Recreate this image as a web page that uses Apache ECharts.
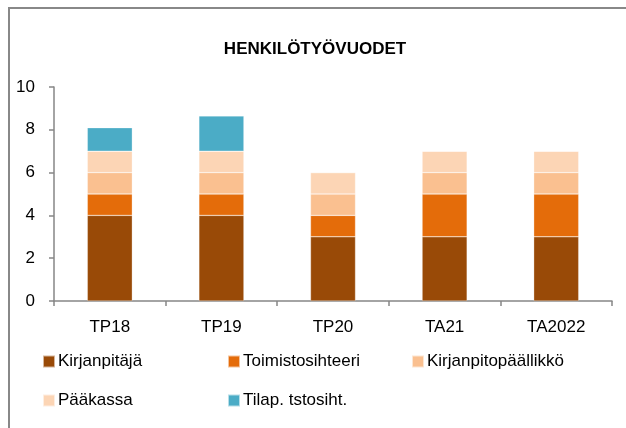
<!DOCTYPE html>
<html>
<head>
<meta charset="utf-8">
<script src="https://cdn.jsdelivr.net/npm/echarts@6/dist/echarts.min.js"></script>
<style>
  html, body { margin: 0; padding: 0; background: #fff; }
  #view { width: 626px; height: 428px; }
</style>
</head>
<body>
<div id="view"></div>
<script>
var myCharts = echarts.init(document.getElementById("view"));

/* perusdata */
var categories = ['TP18', 'TP19', 'TP20', 'TA21', 'TA2022'];
var seriesNames = ['Kirjanpitäjä', 'Toimistosihteeri', 'Kirjanpitopäällikkö', 'Pääkassa', 'Tilap. tstosiht.'];
var kirjanpitaja = [4, 4, 3, 3, 3];
var toimistosihteeri = [1, 1, 1, 2, 2];
var kirjanpitopaallikko = [1, 1, 1, 1, 1];
var paakassa = [1, 1, 1, 1, 1];
var tilap = [1.1, 1.65, 0, 0, 0];
var colors = ['#994A07', '#E46C0A', '#FAC090', '#FCD5B5', '#4BACC6'];

var font = '"Liberation Sans", Arial, sans-serif';

function seg(i, data) {
    return {
        name: seriesNames[i],
        type: 'bar',
        stack: 'a',
        barWidth: 45,
        data: data,
        itemStyle: { color: colors[i], borderColor: 'rgba(255,255,255,0.6)', borderWidth: 0.5 }
    };
}

/* selitteet: 3 per rivi */
var legendPos = [[42, 353], [227, 353], [411, 353], [42, 392], [227, 392]];
var legends = seriesNames.map(function (n, i) {
    return {
        data: [n],
        left: legendPos[i][0], top: legendPos[i][1],
        itemWidth: 12, itemHeight: 12, itemGap: 0,
        padding: 0,
        icon: 'rect',
        textStyle: { fontFamily: font, fontSize: 17, color: '#000', padding: [0, 0, 0, -2] }
    };
});

option = {
    animation: false,
    textStyle: { fontFamily: font },
    title: {
        text: 'HENKILÖTYÖVUODET',
        left: 310,
        top: 36,
        textAlign: 'center',
        textStyle: { fontFamily: font, fontSize: 17, fontWeight: 'bold', color: '#000' }
    },
    graphic: [{
        type: 'rect',
        shape: { x: 9, y: 8, width: 700, height: 500 },
        style: { fill: 'none', stroke: '#888888', lineWidth: 2 }
    }],
    grid: { left: 54, right: 14, top: 87, bottom: 127, containLabel: false },
    legend: legends,
    xAxis: [{
        type: 'category',
        data: categories,
        axisLine: { lineStyle: { color: '#868686', width: 1.5 } },
        axisTick: { show: true, length: 5, lineStyle: { color: '#868686', width: 1.5 } },
        axisLabel: { fontFamily: font, fontSize: 17, color: '#000', margin: 18 }
    }],
    yAxis: [{
        type: 'value',
        min: 0, max: 10, interval: 2,
        axisLine: { show: true, lineStyle: { color: '#868686', width: 1.5 } },
        axisTick: { show: true, length: 5, lineStyle: { color: '#868686', width: 1.5 } },
        axisLabel: { fontFamily: font, fontSize: 17, color: '#000', margin: 19 },
        splitLine: { show: false }
    }],
    series: [
        seg(0, kirjanpitaja),
        seg(1, toimistosihteeri),
        seg(2, kirjanpitopaallikko),
        seg(3, paakassa),
        seg(4, tilap)
    ]
};

myCharts.setOption(option);
</script>
</body>
</html>
